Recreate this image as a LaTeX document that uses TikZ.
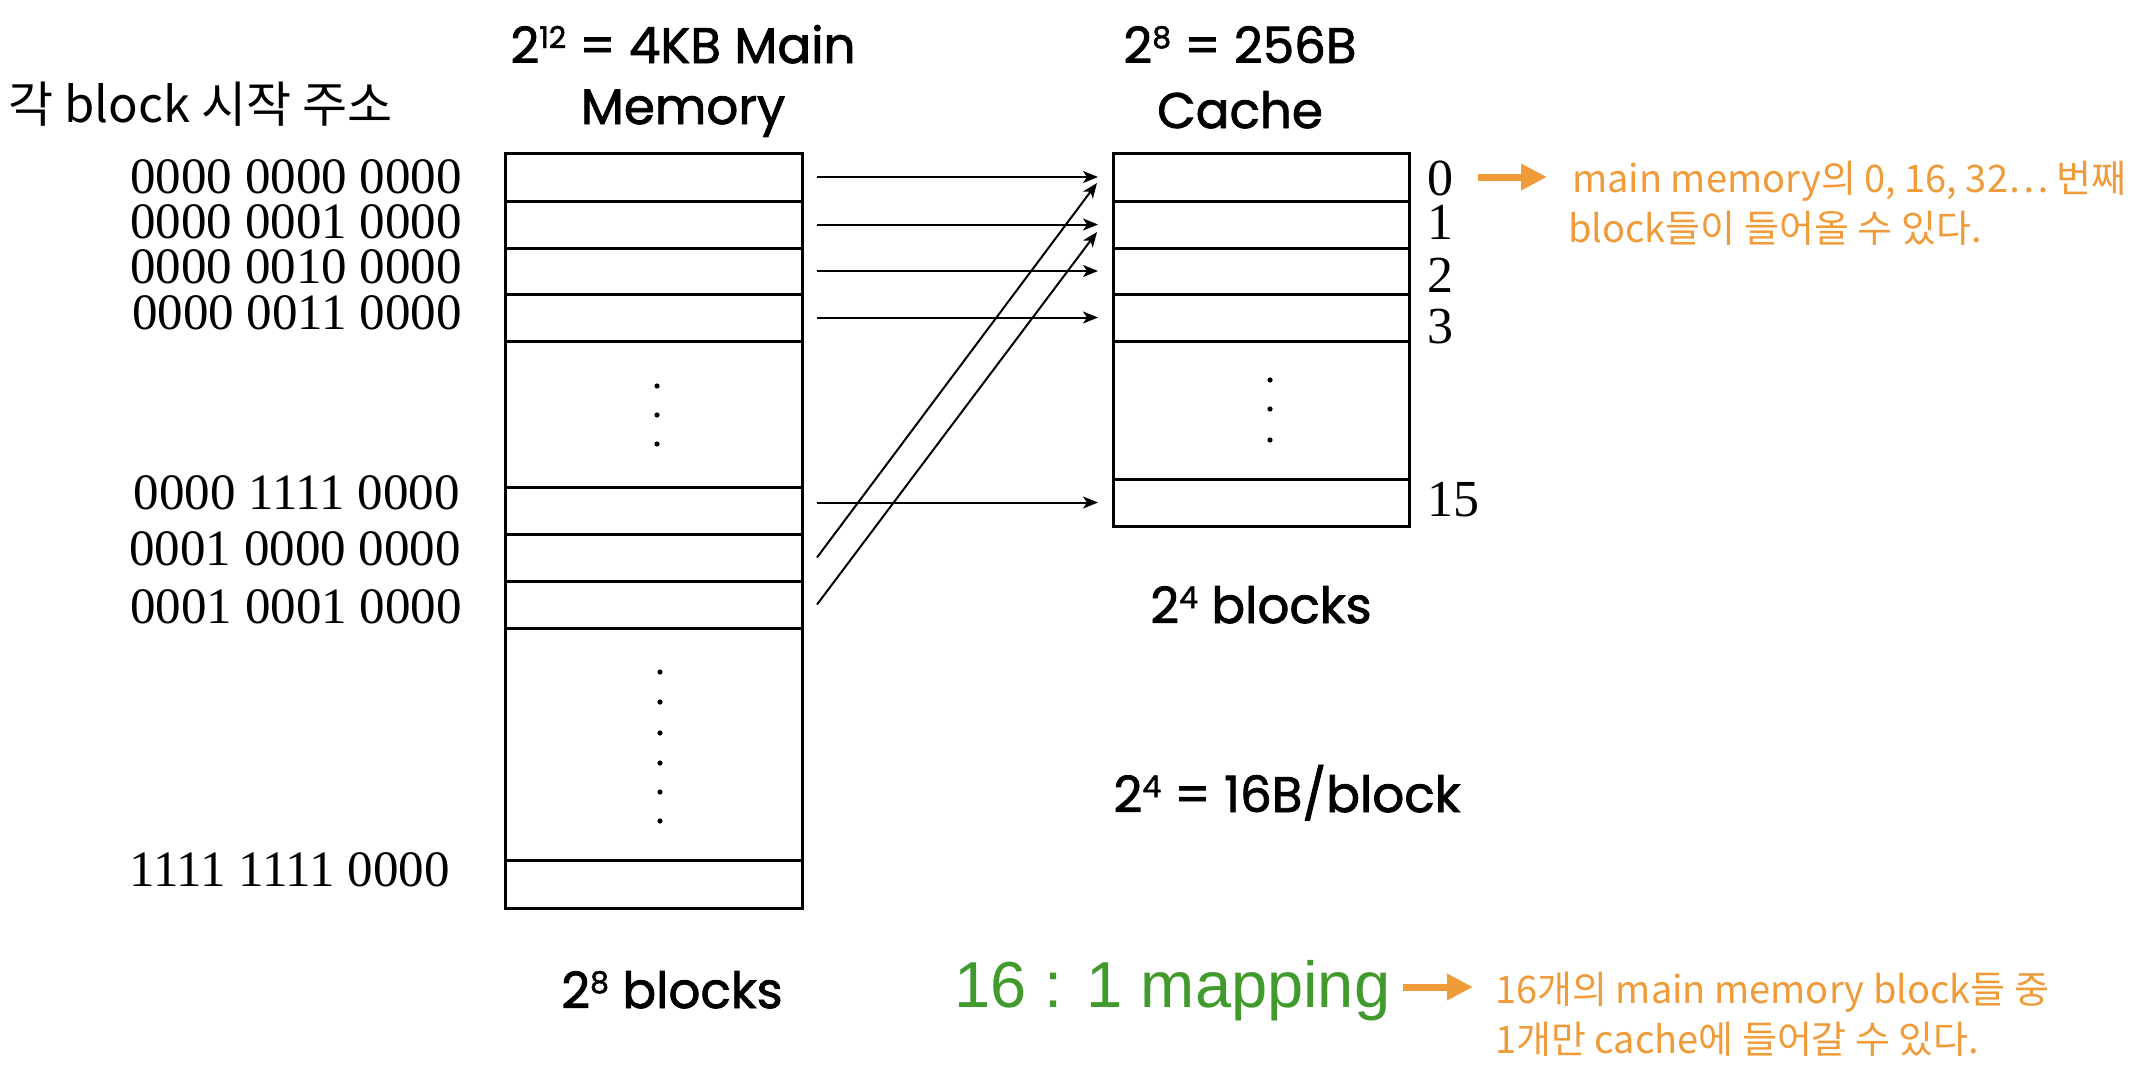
\documentclass[tikz,border=0pt]{standalone}
\usepackage{fontspec}
\setmainfont{Liberation Serif}
\newfontfamily\kr{Noto Sans CJK KR}
\newfontfamily\comic[FakeBold=1.6]{Poppins}
\newfontfamily\helv{Liberation Sans}
\usetikzlibrary{arrows.meta,calc}
\definecolor{noteorange}{RGB}{240,155,58}
\definecolor{mapgreen}{RGB}{64,154,44}
\newcommand\supnum[1]{\raisebox{15pt}{\fontsize{30}{34}\selectfont #1}}
\begin{document}
\begin{tikzpicture}[x=1pt,y=-1pt,
  mrow/.style={draw, line width=3pt, minimum width=297pt, inner sep=0pt, outer sep=0pt},
  crow/.style={draw, line width=3pt, minimum width=296pt, inner sep=0pt, outer sep=0pt},
  arr/.style={line width=2pt, -{Stealth[length=15pt,width=12pt,inset=4pt]}},
  oarr/.style={draw=noteorange, line width=7pt, -{Triangle[length=26pt,width=25pt,fill=noteorange]}},
  addr/.style={anchor=east, inner sep=0pt, font=\fontsize{51}{60}\selectfont},
  idx/.style={anchor=west, inner sep=0pt, font=\fontsize{52}{60}\selectfont},
  ttl/.style={anchor=base, inner sep=0pt, font=\comic\fontsize{50}{60}\selectfont},
  note/.style={anchor=base west, inner sep=0pt, text=noteorange, font=\kr\fontsize{38}{44}\selectfont},
  dotm/.style={fill=black}
]
\useasboundingbox (0,0) rectangle (2152,1074);

% Main memory rows
\node[mrow, minimum height=48pt] (m0) at (653.5,177) {};
\node[mrow, minimum height=47pt] (m1) at (653.5,224.5) {};
\node[mrow, minimum height=46pt] (m2) at (653.5,271) {};
\node[mrow, minimum height=47pt] (m3) at (653.5,317.5) {};
\node[mrow, minimum height=146pt] (mg1) at (653.5,414) {};
\node[mrow, minimum height=47pt] (m4) at (653.5,510.5) {};
\node[mrow, minimum height=47pt] (m5) at (653.5,557.5) {};
\node[mrow, minimum height=47pt] (m6) at (653.5,604.5) {};
\node[mrow, minimum height=232pt] (mg2) at (653.5,744) {};
\node[mrow, minimum height=48pt] (m7) at (653.5,884) {};

% Cache rows
\node[crow, minimum height=48pt] (c0) at (1261,177) {};
\node[crow, minimum height=47pt] (c1) at (1261,224.5) {};
\node[crow, minimum height=46pt] (c2) at (1261,271) {};
\node[crow, minimum height=47pt] (c3) at (1261,317.5) {};
\node[crow, minimum height=138pt] (cg) at (1261,410) {};
\node[crow, minimum height=47pt] (c15) at (1261,502.5) {};

% dots
\foreach \yy in {386,415,444} \fill[dotm] (657,\yy) circle (2.6pt);
\foreach \yy in {380,409,440} \fill[dotm] (1270,\yy) circle (2.6pt);
\foreach \yy in {672,702,733,763,792,821} \fill[dotm] (660,\yy) circle (2.6pt);

% address labels
\node[addr] (a0) at (462,177) {0000 0000 0000};
\node[addr] (a1) at (462,222) {0000 0001 0000};
\node[addr] (a2) at (462,267) {0000 0010 0000};
\node[addr] (a3) at (462,313) {0000 0011 0000};
\node[addr] (a4) at (460,493) {0000 1111 0000};
\node[addr] (a5) at (461,549) {0001 0000 0000};
\node[addr] (a6) at (462,607) {0001 0001 0000};
\node[addr] (a7) at (450,870) {1111 1111 0000};

\node[anchor=base west, inner sep=0pt, font=\kr\fontsize{49}{54}\selectfont] (hdr) at (8,122) {각 block 시작 주소};

% cache indices
\node[idx] (i0) at (1427,178) {0};
\node[idx] (i1) at (1427,222) {1};
\node[idx] (i2) at (1427,275) {2};
\node[idx] (i3) at (1427,327) {3};
\node[idx] (i15) at (1427,500) {15};

% titles
\node[ttl] (t1a) at (683,63) {2\supnum{12} = 4KB Main};
\node[ttl] (t1b) at (683,124) {Memory};
\node[ttl] (t2a) at (1240,63) {2\supnum{8} = 256B};
\node[ttl] (t2b) at (1240,128) {Cache};
\node[ttl] (t3) at (1261,623) {2\supnum{4} blocks};
\node[ttl] (t4) at (1287,812) {2\supnum{4} = 16B/block};
\node[ttl] (t5) at (672,1008) {2\supnum{8} blocks};

% mapping arrows
\draw[arr] ($(m0.east|-c0.west)+(15,0)$) -- ($(c0.west)+(-15,0)$);
\draw[arr] ($(m1.east|-c1.west)+(15,0)$) -- ($(c1.west)+(-15,0)$);
\draw[arr] ($(m2.east|-c2.west)+(15,0)$) -- ($(c2.west)+(-15,0)$);
\draw[arr] ($(m3.east|-c3.west)+(15,0)$) -- ($(c3.west)+(-15,0)$);
\draw[arr] ($(m4.east|-c15.west)+(15,0)$) -- ($(c15.west)+(-15,0)$);
\draw[arr] ($(m5.east)+(15,0)$) -- ($(c0.west)+(-16,6)$);
\draw[arr] ($(m6.east)+(15,0)$) -- ($(c1.west)+(-16,7.5)$);

% notes
\coordinate (o1a) at (1478,177);
\coordinate (o1b) at (1547,177);
\draw[oarr] (o1a) -- (o1b);
\node[note] (n1a) at (1572,192) {main memory의 0, 16, 32… 번째};
\node[note] (n1b) at (1568,242) {block들이 들어올 수 있다.};

\node[anchor=base west, inner sep=0pt, text=mapgreen, font=\helv\fontsize{65}{70}\selectfont] (map) at (954,1007) {16 : 1 mapping};
\coordinate (o2a) at (1403,987);
\coordinate (o2b) at (1473,987);
\draw[oarr] (o2a) -- (o2b);
\node[note] (n2a) at (1495,1003) {16개의 main memory block들 중};
\node[note] (n2b) at (1495,1053) {1개만 cache에 들어갈 수 있다.};
\end{tikzpicture}
\end{document}
